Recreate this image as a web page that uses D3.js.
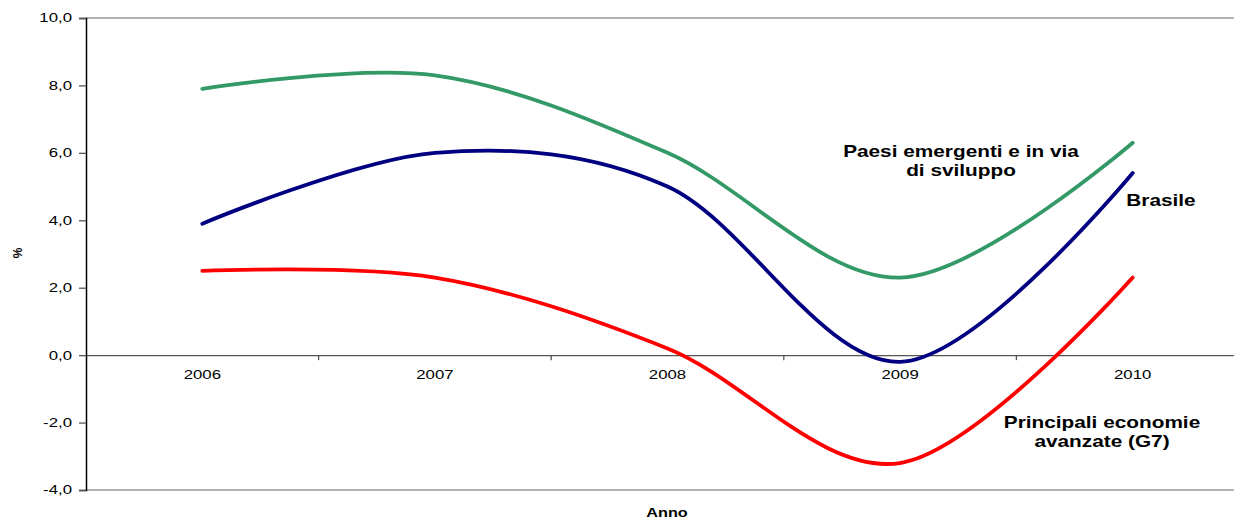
<!DOCTYPE html>
<html>
<head>
<meta charset="utf-8">
<script src="https://cdn.jsdelivr.net/npm/d3@7"></script>
<style>
  body { margin: 0; background: #fff; }
  svg { display: block; font-family: Arial, "Liberation Sans", sans-serif; }
</style>
</head>
<body>
<svg width="1234" height="519"></svg>
<script>
/* chart values */
var years = ["2006", "2007", "2008", "2009", "2010"];
var emergenti = [7.9, 8.3, 6.0, 2.3, 6.3];
var brasile = [3.9, 6.0, 5.0, -0.2, 5.4];
var g7 = [2.5, 2.3, 0.2, -3.2, 2.3];
var yTicks = [-4, -2, 0, 2, 4, 6, 8, 10];

var svg = d3.select("svg"),
    margin = {top: 18, left: 86},
    plotW = 1163,   // plot runs past the right edge of the picture
    plotH = 472;

var x = d3.scaleBand().domain(years).range([margin.left, margin.left + plotW]),
    y = d3.scaleLinear().domain([-4, 10]).range([margin.top + plotH, margin.top]);

// the picture is stretched sideways, so the text is too
var sx = 1.4;

/* plot area border, top and bottom */
svg.append("g").selectAll("line")
  .data([10, -4])
  .enter().append("line")
    .attr("x1", margin.left).attr("x2", margin.left + plotW)
    .attr("y1", function(d) { return y(d); })
    .attr("y2", function(d) { return y(d); })
    .attr("stroke", "#999").attr("stroke-width", 1.3);

/* zero line with the year labels below it */
var xAxis = svg.append("g")
    .attr("transform", "translate(0," + y(0) + ")")
    .call(d3.axisBottom(x).tickSize(0).tickPadding(0));
xAxis.select(".domain").attr("stroke", "#555").attr("stroke-width", 1.3);
xAxis.selectAll(".tick text")
    .attr("y", 0).attr("dy", null)
    .attr("font-size", 12).attr("font-family", null).attr("fill", "#000")
    .attr("transform", "translate(0,24) scale(" + sx + ",1)");

// ticks sit between the years
svg.append("g").selectAll("line")
  .data(years.slice(1))
  .enter().append("line")
    .attr("x1", function(d) { return x(d); })
    .attr("x2", function(d) { return x(d); })
    .attr("y1", y(0)).attr("y2", y(0) + 5)
    .attr("stroke", "#555").attr("stroke-width", 1.3);

/* y axis */
var yAxis = svg.append("g")
    .attr("transform", "translate(" + margin.left + ",0)")
    .call(d3.axisLeft(y).tickValues(yTicks).tickSize(7)
      .tickFormat(function(d) { return d.toFixed(1).replace(".", ","); }));
yAxis.select(".domain").attr("stroke", "#000").attr("stroke-width", 1.5);
yAxis.selectAll(".tick line").attr("stroke", "#555").attr("stroke-width", 1.3);
yAxis.selectAll(".tick text")
    .attr("x", 0).attr("dy", "0.33em")
    .attr("font-size", 12).attr("font-family", null).attr("fill", "#000")
    .attr("transform", "translate(-14,0) scale(" + sx + ",1)");

/* axis titles */
svg.append("text")
    .attr("transform", "translate(22,253) rotate(-90)")
    .attr("text-anchor", "middle")
    .attr("font-size", 12).attr("font-weight", "bold")
    .text("%");

svg.append("text")
    .attr("transform", "translate(667,517) scale(1.25,1)")
    .attr("text-anchor", "middle")
    .attr("font-size", 13).attr("font-weight", "bold")
    .text("Anno");

/* the three smoothed lines */
var line = d3.line()
    .x(function(d, i) { return x(years[i]) + x.bandwidth() / 2; })
    .y(function(d) { return y(d); })
    .curve(d3.curveCardinal.tension(0));

var series = [
  {values: emergenti, color: "#339966"},
  {values: brasile, color: "#000080"},
  {values: g7, color: "#ff0000"}
];

svg.append("g").selectAll("path")
  .data(series)
  .enter().append("path")
    .attr("d", function(d) { return line(d.values); })
    .attr("fill", "none")
    .attr("stroke", function(d) { return d.color; })
    .attr("stroke-width", 3.8)
    .attr("stroke-linecap", "round");

/* labels next to the lines */
var notes = [
  {lines: ["Paesi emergenti e in via", "di sviluppo"], x: 961, y: 157},
  {lines: ["Brasile"], x: 1161, y: 206},
  {lines: ["Principali economie", "avanzate (G7)"], x: 1102, y: 428}
];

notes.forEach(function(n) {
  n.lines.forEach(function(t, i) {
    svg.append("text")
        .attr("transform", "translate(" + n.x + "," + (n.y + i * 19) + ") scale(1.3,1)")
        .attr("text-anchor", "middle")
        .attr("font-size", 16).attr("font-weight", "bold")
        .text(t);
  });
});
</script>
</body>
</html>
